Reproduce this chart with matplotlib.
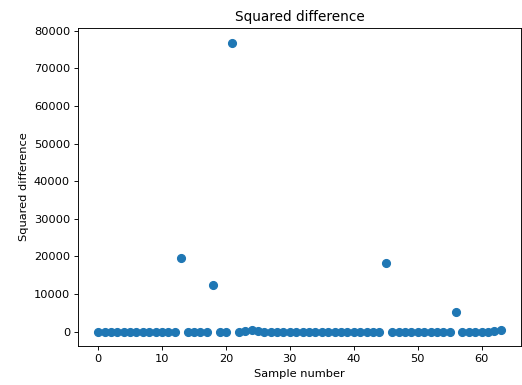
#!/usr/bin/env python3

import matplotlib
matplotlib.use('Agg')
import matplotlib.pyplot as plt
import numpy as np

# squared difference per sample
samples = np.arange(64)
sq_diff = [
    4, 2, 5, 1, 3, 4, 2, 5, 1, 3,
    2, 4, 3, 19700, 5, 3, 1, 4, 12300, 2,
    3, 76900, 5, 20, 300, 30, 5, 3, 2, 4,
    3, 1, 5, 2, 3, 4, 1, 3, 5, 2,
    3, 4, 1, 3, 2, 18300, 3, 5, 1, 4,
    2, 3, 5, 1, 3, 4, 5300, 2, 3, 5,
    1, 3, 40, 350,
]

# reference looks like a default figure rendered at a lower dpi
k = 0.82
plt.rcParams.update({
    'font.size': 10 * k,
    'axes.titlesize': 12 * k,
    'axes.linewidth': 0.8 * k,
    'xtick.major.size': 3.5 * k,
    'ytick.major.size': 3.5 * k,
    'xtick.major.width': 0.8 * k,
    'ytick.major.width': 0.8 * k,
    'xtick.major.pad': 3.5 * k,
    'ytick.major.pad': 3.5 * k,
    'axes.titlepad': 6 * k,
    'axes.labelpad': 4 * k,
})

fig = plt.figure(figsize=(5.22, 3.85), dpi=100)
ax = fig.add_axes([0.1494, 0.1013, 0.8486, 0.8257])
ax.scatter(samples, sq_diff, s=31)
ax.set_title('Squared difference')
ax.set_xlabel('Sample number')
ax.set_ylabel('Squared difference')

fig.savefig('out.png', dpi=100)
